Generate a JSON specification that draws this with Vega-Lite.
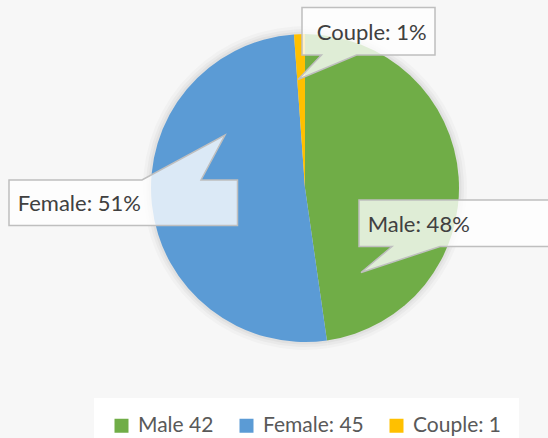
{
  "$schema": "https://vega.github.io/schema/vega-lite/v6.json",
  "width": 486,
  "height": 376,
  "autosize": {"type": "none"},
  "padding": {"left": 62, "top": 0, "right": 0, "bottom": 62},
  "background": "#F7F7F7",
  "config": {"view": {"stroke": null}, "font": "Lato"},
  "data": {
    "values": [
      {"name": "Male", "series": "Male 42", "count": 42, "idx": 1},
      {"name": "Female", "series": "Female: 45", "count": 45, "idx": 2},
      {"name": "Couple", "series": "Couple: 1", "count": 1, "idx": 3}
    ]
  },
  "transform": [
    {"joinaggregate": [{"op": "sum", "field": "count", "as": "total"}]},
    {"calculate": "datum.name + ': ' + format(datum.count / datum.total, '.0%')", "as": "label"}
  ],
  "layer": [
    {
      "mark": {"type": "arc", "outerRadius": 162, "fill": "#000000", "opacity": 0.025, "stroke": null},
      "encoding": {
        "theta": {"field": "count", "type": "quantitative", "stack": true},
        "order": {"field": "idx", "type": "quantitative"}
      }
    },
    {
      "mark": {"type": "arc", "outerRadius": 159, "fill": "#000000", "opacity": 0.03, "stroke": null},
      "encoding": {
        "theta": {"field": "count", "type": "quantitative", "stack": true},
        "order": {"field": "idx", "type": "quantitative"}
      }
    },
    {
      "mark": {"type": "arc", "outerRadius": 156.5, "fill": "#000000", "opacity": 0.035, "stroke": null},
      "encoding": {
        "theta": {"field": "count", "type": "quantitative", "stack": true},
        "order": {"field": "idx", "type": "quantitative"}
      }
    },
    {
      "mark": {"type": "arc", "outerRadius": 154, "stroke": null},
      "encoding": {
        "theta": {"field": "count", "type": "quantitative", "stack": true},
        "order": {"field": "idx", "type": "quantitative"},
        "color": {
          "field": "series",
          "type": "nominal",
          "scale": {"domain": ["Male 42", "Female: 45", "Couple: 1"], "range": ["#70AD47", "#5B9BD5", "#FFC000"]},
          "legend": {
            "title": null,
            "orient": "none",
            "legendX": 32,
            "legendY": 398,
            "direction": "horizontal",
            "padding": 17,
            "fillColor": "white",
            "symbolType": "square",
            "symbolSize": 196,
            "symbolStrokeWidth": 0,
            "symbolOpacity": 1,
            "labelFont": "Lato",
            "labelFontSize": 21,
            "labelColor": "#595959",
            "labelOffset": 6,
            "columnPadding": 22
          }
        }
      }
    },
    {
      "transform": [{"filter": "datum.name == 'Couple'"}],
      "mark": {"type": "point", "shape": "M -3 -180.5 L 130 -180.5 L 130 -133 L 51.5 -133 L -7 -108.5 L 16.5 -133 L -3 -133 Z", "size": 4, "filled": true, "fill": "white", "fillOpacity": 0.78, "stroke": "#BFBFBF", "strokeWidth": 1.5, "opacity": 1},
      "encoding": {}
    },
    {
      "transform": [{"filter": "datum.name == 'Female'"}],
      "mark": {"type": "point", "shape": "M -296 -8 L -163 -8 L -80 -53 L -104 -8 L -67.5 -8 L -67.5 37.5 L -296 37.5 Z", "size": 4, "filled": true, "fill": "white", "fillOpacity": 0.78, "stroke": "#BFBFBF", "strokeWidth": 1.5, "opacity": 1},
      "encoding": {}
    },
    {
      "transform": [{"filter": "datum.name == 'Male'"}],
      "mark": {"type": "point", "shape": "M 54 12 L 255 12 L 255 58.5 L 135 58.5 L 56 84.5 L 87 58.5 L 54 58.5 Z", "size": 4, "filled": true, "fill": "white", "fillOpacity": 0.78, "stroke": "#BFBFBF", "strokeWidth": 1.5, "opacity": 1},
      "encoding": {}
    },
    {
      "mark": {"type": "text", "radius": 114, "dy": 52, "align": "center", "baseline": "alphabetic", "font": "Lato", "fontSize": 22, "color": "#404040"},
      "encoding": {
        "theta": {"field": "count", "type": "quantitative", "stack": true},
        "order": {"field": "idx", "type": "quantitative"},
        "detail": {"field": "series", "type": "nominal"},
        "text": {"condition": {"test": "datum.name == 'Male'", "field": "label"}, "value": ""}
      }
    },
    {
      "mark": {"type": "text", "radius": 227, "dy": -1, "align": "center", "baseline": "alphabetic", "font": "Lato", "fontSize": 22, "color": "#404040"},
      "encoding": {
        "theta": {"field": "count", "type": "quantitative", "stack": true},
        "order": {"field": "idx", "type": "quantitative"},
        "detail": {"field": "series", "type": "nominal"},
        "text": {"condition": {"test": "datum.name == 'Female'", "field": "label"}, "value": ""}
      }
    },
    {
      "mark": {"type": "text", "radius": 148.5, "dx": 72, "align": "center", "baseline": "alphabetic", "font": "Lato", "fontSize": 22, "color": "#404040"},
      "encoding": {
        "theta": {"field": "count", "type": "quantitative", "stack": true},
        "order": {"field": "idx", "type": "quantitative"},
        "detail": {"field": "series", "type": "nominal"},
        "text": {"condition": {"test": "datum.name == 'Couple'", "field": "label"}, "value": ""}
      }
    }
  ]
}
